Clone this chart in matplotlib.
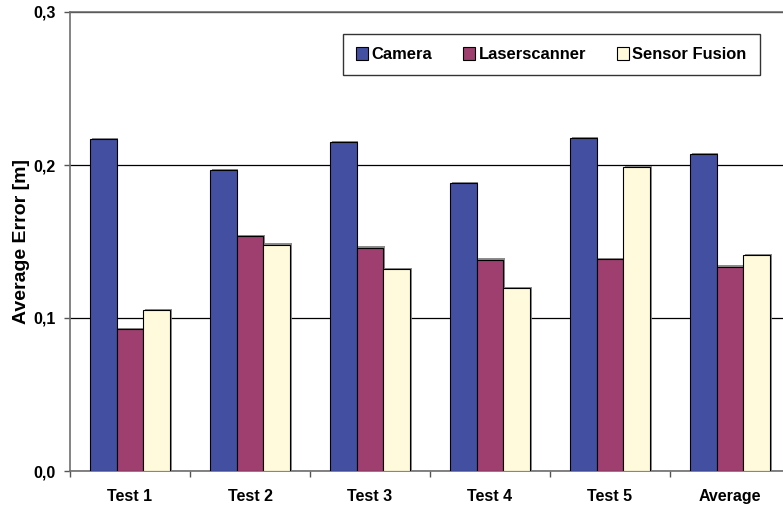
import matplotlib
matplotlib.use("Agg")
import matplotlib.pyplot as plt
import matplotlib.patheffects as pe
import numpy as np

categories = ["Test 1", "Test 2", "Test 3", "Test 4", "Test 5", "Average"]
series_names = ["Camera", "Laserscanner", "Sensor Fusion"]
camera = [0.217, 0.1965, 0.215, 0.188, 0.2175, 0.207]
laserscanner = [0.0925, 0.1535, 0.146, 0.138, 0.1385, 0.1335]
sensor_fusion = [0.105, 0.148, 0.132, 0.1195, 0.1985, 0.141]
y_ticks = [0.0, 0.1, 0.2, 0.3]
y_tick_labels = ["0,0", "0,1", "0,2", "0,3"]

colors = ["#4350A2", "#9E3F6F", "#FFFADB"]

plt.rcParams["font.family"] = ["Liberation Sans", "DejaVu Sans"]
plt.rcParams["font.weight"] = "bold"

W, H = 783, 507
fig = plt.figure(figsize=(W / 100, H / 100), dpi=100)
# axes span 70..790 px horizontally (right edge runs off the canvas)
ax = fig.add_axes([70 / W, 36 / H, 720 / W, 459 / H])

n = len(categories)
x = np.arange(n)
bw = 2 / 9  # three bars with 150% gap width
shadow = [pe.SimplePatchShadow(offset=(1.2, 1.0), shadow_rgbFace="#808080", alpha=0.9), pe.Normal()]
for i, (vals, name) in enumerate(zip([camera, laserscanner, sensor_fusion], series_names)):
    bars = ax.bar(x + (i - 1) * bw, vals, width=bw, color=colors[i],
                  edgecolor="black", linewidth=0.8, label=name, zorder=3)
    for b in bars:
        b.set_path_effects(shadow)

ax.set_xlim(-0.5, n - 0.5)
ax.set_ylim(0, 0.3)

ax.set_yticks(y_ticks)
ax.set_yticklabels(y_tick_labels, fontsize=11.5, fontweight="bold")
ax.yaxis.grid(True, color="black", linewidth=0.9, zorder=1)
ax.set_axisbelow(True)

# category boundaries carry the tick marks, centers carry the labels
ax.set_xticks(np.arange(n + 1) - 0.5)
ax.set_xticklabels([])
ax.set_xticks(x, minor=True)
ax.set_xticklabels(categories, minor=True, fontsize=11.5, fontweight="bold")
ax.tick_params(axis="x", which="minor", length=0, pad=13)
ax.tick_params(axis="x", which="major", length=4, width=1, color="#555555", direction="out")
ax.tick_params(axis="y", length=4, width=1, color="#555555", direction="out", pad=6)

for side in ["left", "bottom", "top"]:
    ax.spines[side].set_color("#6e6e6e")
    ax.spines[side].set_linewidth(1.2)
ax.spines["right"].set_visible(False)

ax.set_ylabel("Average Error [m]", fontsize=14, fontweight="bold", labelpad=3)

leg = ax.legend(loc="upper right", bbox_to_anchor=(0.958, 0.952), ncol=3,
                frameon=True, fancybox=False, shadow=False, borderaxespad=0,
                prop={"size": 11.9, "weight": "bold"},
                handlelength=0.75, handleheight=0.75, handletextpad=0.2,
                columnspacing=1.85, borderpad=0.8)
leg.get_frame().set_edgecolor("black")
leg.get_frame().set_linewidth(1.0)
for h in leg.legend_handles:
    h.set_path_effects([])

fig.savefig("out.png", dpi=100)
